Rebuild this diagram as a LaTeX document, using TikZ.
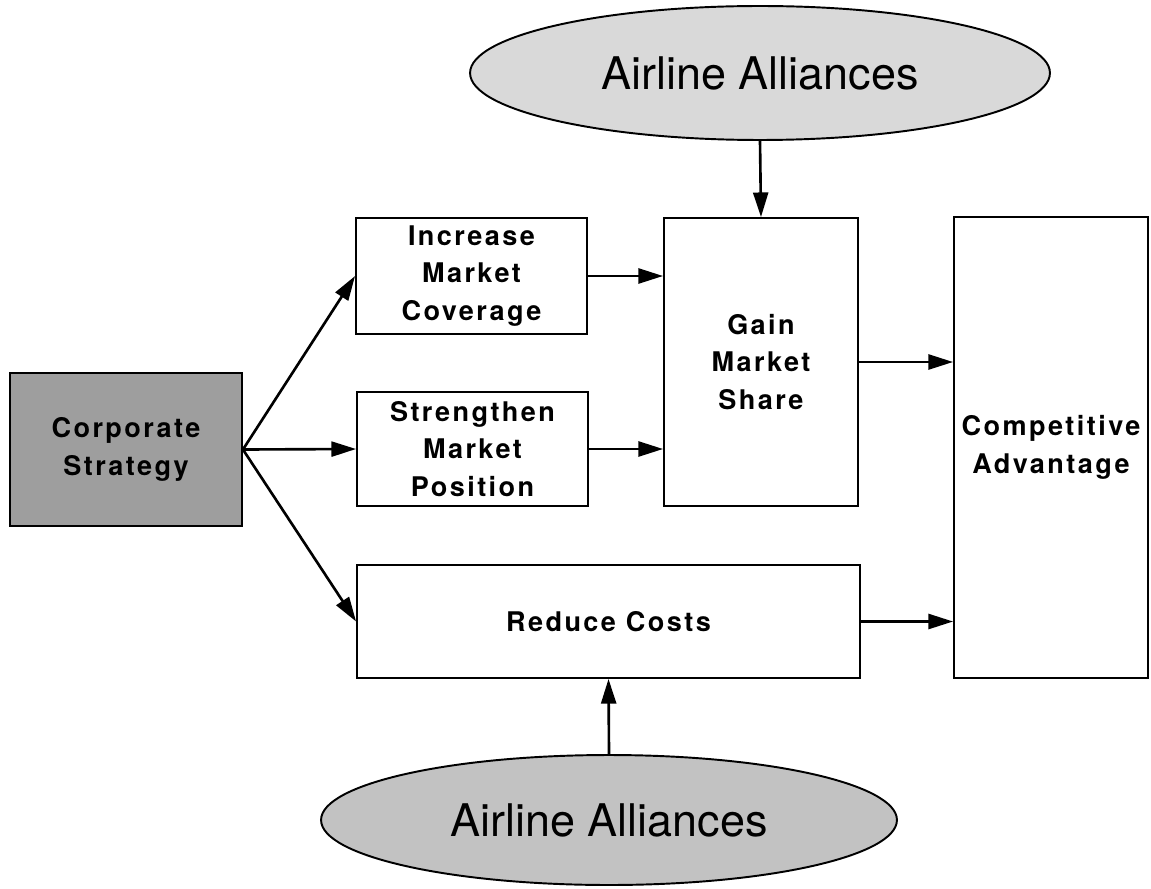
\documentclass[tikz,border=0pt]{standalone}
\usepackage{fontspec}
\setmainfont{TeX Gyre Heros}
\newfontfamily\boxfont{TeX Gyre Heros}[LetterSpace=9]
\usetikzlibrary{arrows.meta,positioning,shapes.geometric}
\tikzset{box/.style={draw, line width=1.1pt, align=center, inner sep=0pt, font=\boxfont\bfseries\fontsize{15.4}{21.3}\selectfont}}
\tikzset{alliance/.style={ellipse, draw, line width=1.1pt, inner sep=0pt, font=\fontsize{25.6}{30}\selectfont}}
\tikzset{arr/.style={draw, line width=1.5pt, -{Triangle[length=14pt,width=8.5pt]}}}

\begin{document}
\begin{tikzpicture}[x=0.02cm,y=-0.02cm]
		\useasboundingbox (0,0) rectangle (1151,888);

		\node[box, fill=black!38, minimum width=4.64cm, minimum height=3.06cm] (corp) at (126,449.5){Corporate\\Strategy};

		\node[box, minimum width=4.62cm, minimum height=2.32cm] (inc) at (471.5,276){Increase\\Market\\Coverage};
		\node[box, minimum width=4.62cm, minimum height=2.28cm] (str) at (472.5,449){Strengthen\\Market\\Position};
		\node[box, minimum width=10.06cm, minimum height=2.26cm] (red) at (608.5,621.5){Reduce Costs};

		\node[box, minimum width=3.88cm, minimum height=5.76cm] (gain) at (761,362){Gain\\Market\\Share};
		\node[box, minimum width=3.88cm, minimum height=9.22cm] (comp) at (1051,447.5){Competitive\\Advantage};

		\node[alliance, fill=black!15, minimum width=11.6cm, minimum height=2.68cm] (allTop) at (760,73){Airline Alliances\hspace{0.35cm}};
		\node[alliance, fill=black!24, minimum width=11.52cm, minimum height=2.6cm] (allBot) at (609,820){Airline Alliances\hspace{0.2cm}};

		\draw[arr] (corp.east) -- (inc.west);
		\draw[arr] (corp.east) -- (str.west);
		\draw[arr] (corp.east) -- (red.west);

		\draw[arr] (inc.east) -- (inc.east -| gain.west);
		\draw[arr] (str.east) -- (str.east -| gain.west);
		\draw[arr] (gain.east) -- (gain.east -| comp.west);
		\draw[arr] (red.east) -- (red.east -| comp.west);

		\draw[arr] (allTop.south) -- (gain.north);
		\draw[arr] (allBot.north) -- (red.south);
	\end{tikzpicture}
\end{document}
